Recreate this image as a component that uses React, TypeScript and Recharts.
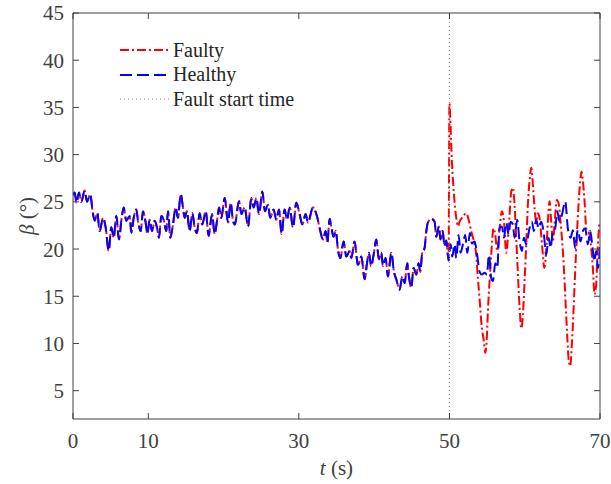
import { LineChart, Line, XAxis, YAxis, ReferenceLine, Legend } from "recharts";

const FONT = '"Liberation Serif", "Times New Roman", serif';
const AXIS = "#404040";
const W = 611;
const H = 484;
const PLOT = { left: 73, top: 13, right: 600, bottom: 419 };

// before the fault both signals coincide
const preFaultTime = [
  0.0, 0.23, 0.45, 0.8, 1.11, 1.55, 1.86, 2.3, 2.57, 2.88, 3.23, 3.54, 3.99, 4.34, 4.74, 5.09, 5.4, 5.76, 6.11, 6.42,
  6.73, 7.08, 7.53, 7.75, 8.06, 8.41, 8.63, 8.99, 9.3, 9.65, 9.87, 10.18, 10.49, 10.85, 11.15, 11.42, 11.73, 12.04,
  12.39, 12.62, 12.93, 13.28, 13.63, 13.94, 14.3, 14.61, 14.83, 15.13, 15.49, 15.85, 16.16, 16.46, 16.82, 17.17,
  17.63, 18.02, 18.47, 18.82, 19.13, 19.4, 19.7, 20.15, 20.59, 20.94, 21.25, 21.5, 22.05, 22.36, 22.8, 23.25, 23.69,
  24.0, 24.35, 24.71, 25.15, 25.5, 25.9, 26.2, 26.65, 27.0, 27.36, 27.71, 28.11, 28.42, 28.78, 29.22, 29.66, 30.1,
  30.46, 30.9, 31.21, 31.87, 32.4, 32.85, 33.2, 33.56, 33.78, 34.09, 34.3, 34.6, 34.9, 35.2, 35.5, 35.95, 36.3,
  36.75, 36.97, 37.4, 37.85, 38.3, 38.74, 39.05, 39.3, 39.6, 39.93, 40.28, 40.64, 40.95, 41.17, 41.52, 41.83, 42.28,
  42.63, 42.94, 43.38, 43.74, 44.05, 44.4, 44.62, 44.93, 45.24, 45.6, 45.9, 46.12, 46.39, 46.7, 46.9, 47.14, 47.59,
  48.03, 48.25, 48.6, 48.8, 49.1, 49.35, 49.58, 49.89,
];
const preFaultBeta = [
  25.7, 26.0, 24.9, 26.0, 25.0, 26.2, 25.0, 25.8, 24.2, 23.0, 23.8, 21.9, 23.3, 22.3, 19.8, 22.3, 21.2, 23.5, 21.0, 23.0,
  24.4, 23.0, 23.5, 21.7, 23.3, 24.2, 23.0, 21.9, 24.0, 22.8, 21.6, 23.1, 21.9, 23.0, 22.3, 21.2, 23.5, 23.1,
  21.9, 24.0, 21.2, 22.6, 24.4, 23.3, 25.8, 24.4, 23.3, 24.0, 21.9, 23.8, 22.3, 21.7, 23.8, 22.6,
  24.0, 21.4, 23.7, 21.6, 23.0, 24.4, 23.3, 25.4, 22.8, 24.9, 23.0, 22.6, 25.1, 23.7, 24.4, 22.4, 25.4,
  24.4, 25.4, 23.7, 26.1, 24.0, 24.7, 23.3, 24.2, 23.1, 24.2, 21.6, 24.2, 23.1, 24.4, 22.3, 24.9, 23.7,
  22.6, 23.7, 22.8, 24.4, 23.5, 21.9, 21.0, 21.9, 20.7, 23.2, 22.4, 21.3, 21.9, 19.9, 19.05, 20.8, 19.2,
  19.8, 19.05, 20.8, 18.3, 19.2, 16.8, 18.5, 19.6, 18.2, 19.4, 21.0, 18.9, 19.6, 18.2, 19.05, 17.1, 19.6,
  17.6, 16.8, 15.7, 17.1, 16.4, 18.5, 17.1, 15.9, 18.0, 17.3, 18.5, 17.6, 19.6, 20.1, 21.7, 22.8, 23.2,
  22.9, 21.3, 22.4, 21.0, 21.9, 20.3, 20.9, 18.8,
];

const healthyTime = [
  50.16, 50.38, 50.69, 50.91, 51.22, 51.48, 51.79, 52.1, 52.37, 52.72, 52.99, 53.34, 53.65, 54.0, 54.3, 54.67, 54.98,
  55.25, 55.55, 55.78, 56.09, 56.35, 56.66, 56.97, 57.24, 57.55, 57.86, 58.12, 58.43, 58.65, 59.0, 59.32, 59.63,
  59.89, 60.2, 60.64, 60.95, 61.22, 61.53, 61.84, 62.19, 62.5, 62.86, 63.17, 63.43, 63.74, 64.05, 64.32, 64.63,
  64.94, 65.38, 65.73, 66.09, 66.4, 66.7, 67.06, 67.41, 67.72, 68.03, 68.39, 68.7, 68.96, 69.27, 69.49, 69.72, 70.0,
];
const healthyBeta = [
  20.5, 19.2, 20.5, 19.05, 21.5, 19.6, 20.5, 21.5, 19.6, 21.7, 20.6, 20.8, 19.6, 17.6, 17.3, 17.5, 17.3,
  19.4, 16.9, 16.6, 18.5, 18.0, 22.2, 22.4, 21.2, 22.8, 21.5, 22.9, 22.6, 21.2, 23.1, 20.8, 19.8,
  21.2, 20.5, 22.2, 22.9, 21.9, 23.1, 22.2, 22.9, 21.9, 19.4, 21.2, 20.1, 21.9, 22.2, 24.0, 22.9,
  23.6, 25.05, 22.2, 21.2, 22.0, 20.1, 22.0, 20.8, 21.9, 22.2, 20.5, 21.9, 20.5, 18.7, 19.8, 18.0, 20.2,
];

const faultyTime = [
  50.0, 50.16, 50.33, 50.6, 50.91, 51.13, 51.35, 51.66, 51.93, 52.24, 52.55, 52.9, 53.25, 53.56, 53.78, 54.0, 54.23,
  54.58, 54.76, 54.94, 55.11, 55.33, 55.55, 55.86, 56.09, 56.35, 56.66, 56.97, 57.24, 57.55, 57.77, 57.99, 58.21,
  58.43, 58.65, 58.87, 59.1, 59.32, 59.54, 59.76, 59.98, 60.2, 60.42, 60.64, 60.87, 61.09, 61.31, 61.53, 61.75,
  61.97, 62.19, 62.41, 62.59, 62.86, 63.08, 63.3, 63.52, 63.74, 63.96, 64.27, 64.54, 64.76, 64.94, 65.2, 65.42,
  65.64, 65.86, 66.04, 66.26, 66.48, 66.7, 66.93, 67.15, 67.37, 67.55, 67.72, 67.95, 68.17, 68.39, 68.61, 68.83,
  69.05, 69.27, 69.49, 69.72, 69.93,
];
const faultyBeta = [
  35.4, 32.8, 29.3, 25.8, 23.3, 22.4, 22.9, 23.3, 23.6, 23.8, 23.1, 21.9, 20.8, 19.4, 16.9, 14.8, 12.3,
  10.2, 9.0, 10.2, 13.4, 16.6, 19.4, 22.2, 21.5, 19.8, 22.2, 24.0, 22.9, 19.6, 21.2, 23.6, 26.1,
  26.5, 24.7, 21.2, 17.3, 13.8, 11.6, 13.0, 16.6, 20.5, 24.7, 27.2, 28.6, 26.8, 24.3, 22.9, 23.8,
  23.3, 21.5, 19.4, 18.0, 19.8, 22.9, 25.05, 22.9, 20.8, 22.6, 25.2, 24.7, 22.9, 21.2, 18.0, 14.5,
  10.9, 8.1, 7.6, 9.9, 13.4, 17.6, 21.5, 24.7, 27.2, 28.2, 27.3, 25.05, 22.2, 21.9, 21.5, 20.1,
  18.0, 15.2, 16.2, 20.5, 22.9,
];

const xTicks = [0, 10, 30, 50, 70];
const yTicks = [5, 10, 15, 20, 25, 30, 35, 40, 45];
const xDomain = [0, 70];
const yDomain = [2, 45];
const faultStart = 50;

const toRows = (t: number[], v: number[]) => t.map((x, i) => ({ t: x, beta: v[i] }));
const preRows = toRows(preFaultTime, preFaultBeta);
const healthyData = [...preRows, ...toRows(healthyTime, healthyBeta)];
const faultyData = [...preRows, ...toRows(faultyTime, faultyBeta)];

const legendItems = [
  { label: "Faulty", color: "#ff0000", dash: "9 3 2 3", width: 2 },
  { label: "Healthy", color: "#0000ff", dash: "12 5", width: 2 },
  { label: "Fault start time", color: "#8c8c8c", dash: "1 3", width: 1 },
];

function LegendBox() {
  return (
    <div style={{ fontFamily: FONT, fontSize: 20, color: "#262626" }}>
      {legendItems.map((item) => (
        <div key={item.label} style={{ display: "flex", alignItems: "center", height: 24.5 }}>
          <svg width={49} height={6} style={{ marginRight: 4 }}>
            <line x1={0} y1={3} x2={49} y2={3} stroke={item.color} strokeWidth={item.width} strokeDasharray={item.dash} />
          </svg>
          <span>{item.label}</span>
        </div>
      ))}
    </div>
  );
}

const textStyle = { fontFamily: FONT, fontSize: 21 };

function XLabel(props: any) {
  const vb = props.viewBox || { x: PLOT.left, width: PLOT.right - PLOT.left };
  const cx = vb.x + vb.width / 2;
  return (
    <text x={cx} y={468} textAnchor="middle" dominantBaseline="central" style={textStyle} fill={AXIS}>
      <tspan fontStyle="italic">t</tspan> (s)
    </text>
  );
}

function YLabel(props: any) {
  const vb = props.viewBox || { y: PLOT.top, height: PLOT.bottom - PLOT.top };
  const cy = vb.y + vb.height / 2;
  return (
    <text x={27} y={cy} transform={`rotate(-90 27 ${cy})`} textAnchor="middle" dominantBaseline="central"
      style={textStyle} fill={AXIS}>
      <tspan fontStyle="italic">β</tspan> (°)
    </text>
  );
}

// top and right edges of the axes box, with inward ticks (MATLAB "box on")
function BoxFrame() {
  const px = (v: number) => PLOT.left + ((v - xDomain[0]) / (xDomain[1] - xDomain[0])) * (PLOT.right - PLOT.left);
  const py = (v: number) => PLOT.bottom - ((v - yDomain[0]) / (yDomain[1] - yDomain[0])) * (PLOT.bottom - PLOT.top);
  return (
    <svg width={W} height={H} style={{ position: "absolute", left: 0, top: 0, pointerEvents: "none" }}>
      <g stroke={AXIS} strokeWidth={1} fill="none">
        <line x1={PLOT.left} y1={PLOT.top} x2={PLOT.right} y2={PLOT.top} />
        <line x1={PLOT.right} y1={PLOT.top} x2={PLOT.right} y2={PLOT.bottom} />
        {xTicks.map((v) => (
          <line key={`x${v}`} x1={px(v)} y1={PLOT.top} x2={px(v)} y2={PLOT.top + 6} />
        ))}
        {yTicks.map((v) => (
          <line key={`y${v}`} x1={PLOT.right} y1={py(v)} x2={PLOT.right - 6} y2={py(v)} />
        ))}
      </g>
    </svg>
  );
}

const tickStyle = { fontFamily: FONT, fontSize: 21, fill: AXIS, style: textStyle };

export default function App() {
  return (
    <div style={{ position: "absolute", left: 0, top: 0, width: W, height: H, background: "#fff", fontFamily: FONT }}>
      <LineChart width={W} height={H} margin={{ top: PLOT.top, right: W - PLOT.right, bottom: 0, left: 0 }}
        style={{ fontFamily: FONT }}>
        <XAxis xAxisId="b" dataKey="t" type="number" domain={xDomain} ticks={xTicks} allowDataOverflow
          height={H - PLOT.bottom} stroke={AXIS} tickSize={-6} tickMargin={20} tick={tickStyle} label={<XLabel />} />
        <YAxis yAxisId="l" type="number" domain={yDomain} ticks={yTicks} allowDataOverflow width={PLOT.left}
          stroke={AXIS} tickSize={-6} tickMargin={15} tick={tickStyle} label={<YLabel />} />
        <Legend content={<LegendBox />} layout="vertical" align="center" verticalAlign="middle"
          wrapperStyle={{ left: 120, top: 38, width: "auto" }} />
        <Line xAxisId="b" yAxisId="l" name="Faulty" data={faultyData} dataKey="beta" type="monotone"
          stroke="#ff0000" strokeWidth={2} strokeDasharray="9 3 2 3" dot={false} isAnimationActive={false} />
        <Line xAxisId="b" yAxisId="l" name="Healthy" data={healthyData} dataKey="beta" type="monotone"
          stroke="#0000ff" strokeWidth={2} strokeDasharray="12 5" dot={false} isAnimationActive={false} />
        <ReferenceLine xAxisId="b" yAxisId="l" x={faultStart} stroke="#8c8c8c" strokeWidth={1} strokeDasharray="1 3" />
      </LineChart>
      <BoxFrame />
    </div>
  );
}
